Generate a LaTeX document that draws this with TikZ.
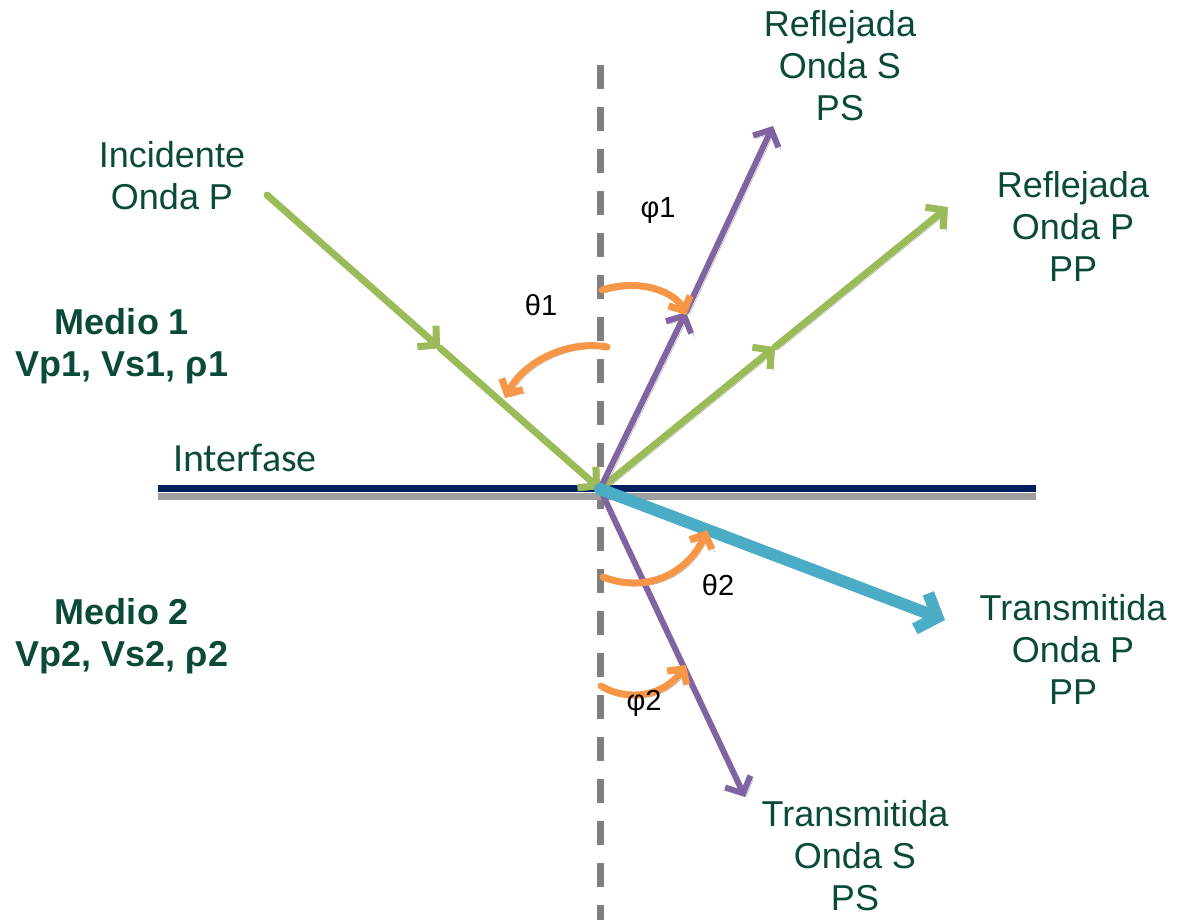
\documentclass[tikz,border=0pt]{standalone}
\usepackage{fontspec}
\setmainfont{Liberation Sans}
\newfontfamily\calib{Carlito}
\usetikzlibrary{arrows.meta}
\definecolor{txt}{HTML}{0B4A3B}
\definecolor{grn}{HTML}{9BBB59}
\definecolor{prp}{HTML}{8064A2}
\definecolor{org}{HTML}{F79646}
\definecolor{cyn}{HTML}{4BACC6}
\definecolor{nvy}{HTML}{002060}
\definecolor{dgr}{HTML}{7F7F7F}
\definecolor{shd}{HTML}{A0A0A0}
\begin{document}
\begin{tikzpicture}[x=1pt,y=-1pt,
  shad/.style={preaction={draw=shd, transform canvas={shift={(3pt,-3pt)}}}},
  lbl/.style={align=center, text=txt, font=\fontsize{36}{42}\selectfont},
  blbl/.style={align=center, text=txt, font=\bfseries\fontsize{36}{42}\selectfont},
  ang/.style={text=black, font=\fontsize{29}{32}\selectfont},
  barb/.style={-{Straight Barb[length=13pt,width=28pt]}},
  ray/.style={shad, line width=7pt, line cap=round, line join=round, barb},
  arcarrow/.style={shad, draw=org, line width=7pt, line cap=round, -{Straight Barb[length=11pt,width=24pt]}}
]
\useasboundingbox (0,0) rectangle (1188,920);
% coordinates
\coordinate (O) at (600,489);
\coordinate (vtop) at (600,65);
\coordinate (vbot) at (600,920);
\coordinate (il) at (158,488);
\coordinate (ir) at (1036,488);
\coordinate (gl) at (158,496);
\coordinate (gr) at (1036,496);
\coordinate (incS) at (267,195);
\coordinate (incM) at (440,348);
\coordinate (rpM) at (775,347);
\coordinate (rpE) at (948,207);
\coordinate (rsM) at (686,312);
\coordinate (rsE) at (773,126);
\coordinate (tpE) at (945,620);
\coordinate (tsE) at (745,797);
% arc ends
\coordinate (t1a) at (607,347);
\coordinate (t1b) at (505,398);
\coordinate (f1a) at (602,290);
\coordinate (f1b) at (686,315);
\coordinate (t2a) at (603,577);
\coordinate (t2b) at (707,530);
\coordinate (f2a) at (601,686);
\coordinate (f2b) at (686,665);

% normal (dashed)
\draw[dgr, line width=7pt, dash pattern=on 24pt off 18pt] (vtop) -- (vbot);
% interface
\draw[shd, line width=7pt] (gl) -- (gr);
\draw[nvy, line width=7pt] (il) -- (ir);

% rays
\draw[ray, grn] (incS) -- (incM);
\draw[ray, grn] (incM) -- (O);
\draw[ray, grn] (O) -- (rpM);
\draw[ray, grn] (rpM) -- (rpE);
\draw[ray, prp, line width=6pt] (O) -- (rsM);
\draw[ray, prp, line width=6pt] (rsM) -- (rsE);
\draw[ray, prp, line width=6pt] (O) -- (tsE);
\draw[shad, cyn, line width=12pt, line cap=round, -{Straight Barb[length=17pt,width=38pt]}] (O) -- (tpE);

% angle arcs
\draw[arcarrow] (t1a) .. controls (570,340) and (525,360) .. (t1b);
\draw[arcarrow] (f1a) .. controls (640,278) and (675,292) .. (f1b);
\draw[arcarrow] (t2a) .. controls (650,595) and (690,570) .. (t2b);
\draw[arcarrow] (f2a) .. controls (630,703) and (665,695) .. (f2b);

% angle labels
\node[ang] (th1) at (541,305) {θ1};
\node[ang] (ph1) at (658,211) {φ1};
\node[ang] (th2) at (718,585) {θ2};
\node[ang] (ph2) at (644,703) {φ2};

% texts
\node[lbl] (inc) at (172,176) {Incidente\\Onda P};
\node[blbl] (m1) at (122,346) {Medio 1\\Vp1, Vs1, ρ1};
\node[blbl] (m2) at (122,636) {Medio 2\\Vp2, Vs2, ρ2};
\node[text=txt, font=\calib\fontsize{40}{44}\selectfont] (intf) at (245,458) {Interfase};
\node[lbl] (rs) at (840,66) {Reflejada\\Onda S\\PS};
\node[lbl] (rp) at (1073,226) {Reflejada\\Onda P\\PP};
\node[lbl] (tp) at (1073,649) {Transmitida\\Onda P\\PP};
\node[lbl] (ts) at (855,856) {Transmitida\\Onda S\\PS};
\end{tikzpicture}
\end{document}
